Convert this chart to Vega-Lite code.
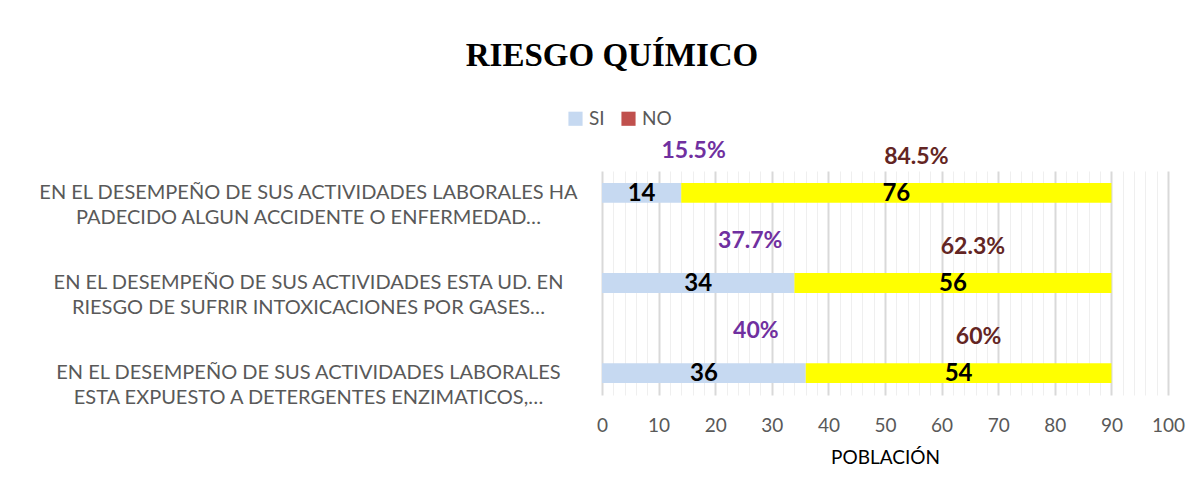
{
  "$schema": "https://vega.github.io/schema/vega-lite/v6.json",
  "width": 566,
  "height": 224,
  "autosize": "none",
  "padding": {"left": 602, "top": 171, "right": 35, "bottom": 107},
  "background": "white",
  "config": {"view": {"stroke": null}},
  "title": {
    "text": "RIESGO QUÍMICO",
    "font": "Liberation Serif",
    "fontSize": 33,
    "fontWeight": "bold",
    "color": "black",
    "anchor": "middle",
    "frame": "group",
    "dx": -273,
    "offset": 36
  },
  "data": {
    "values": [
      {"pregunta": "EN EL DESEMPEÑO DE SUS ACTIVIDADES LABORALES HA|PADECIDO ALGUN ACCIDENTE O ENFERMEDAD…", "serie": "SI", "orden": 1, "valor": 14, "porcentaje": "15.5%"},
      {"pregunta": "EN EL DESEMPEÑO DE SUS ACTIVIDADES LABORALES HA|PADECIDO ALGUN ACCIDENTE O ENFERMEDAD…", "serie": "NO", "orden": 2, "valor": 76, "porcentaje": "84.5%"},
      {"pregunta": "EN EL DESEMPEÑO DE SUS ACTIVIDADES ESTA UD. EN|RIESGO DE SUFRIR INTOXICACIONES POR GASES…", "serie": "SI", "orden": 1, "valor": 34, "porcentaje": "37.7%"},
      {"pregunta": "EN EL DESEMPEÑO DE SUS ACTIVIDADES ESTA UD. EN|RIESGO DE SUFRIR INTOXICACIONES POR GASES…", "serie": "NO", "orden": 2, "valor": 56, "porcentaje": "62.3%"},
      {"pregunta": "EN EL DESEMPEÑO DE SUS ACTIVIDADES LABORALES|ESTA EXPUESTO A DETERGENTES ENZIMATICOS,…", "serie": "SI", "orden": 1, "valor": 36, "porcentaje": "40%"},
      {"pregunta": "EN EL DESEMPEÑO DE SUS ACTIVIDADES LABORALES|ESTA EXPUESTO A DETERGENTES ENZIMATICOS,…", "serie": "NO", "orden": 2, "valor": 54, "porcentaje": "60%"}
    ]
  },
  "transform": [
    {"stack": "valor", "groupby": ["pregunta"], "sort": [{"field": "orden", "order": "ascending"}], "as": ["inicio", "fin"]}
  ],
  "resolve": {"axis": {"x": "independent"}},
  "encoding": {
    "y": {
      "field": "pregunta",
      "type": "nominal",
      "sort": null,
      "scale": {"paddingInner": 0.78, "paddingOuter": 0.134},
      "axis": {
        "title": null,
        "domain": false,
        "ticks": false,
        "labelExpr": "split(datum.label, '|')",
        "labelAlign": "center",
        "labelBaseline": "middle",
        "labelPadding": 294,
        "labelLimit": 0,
        "labelFont": "Lato",
        "labelFontSize": 20,
        "labelLineHeight": 25,
        "labelColor": "#595959"
      }
    }
  },
  "layer": [
    {
      "mark": {"type": "bar"},
      "encoding": {
        "x": {
          "field": "inicio",
          "type": "quantitative",
          "scale": {"domain": [0, 100], "nice": false},
          "axis": {
            "title": "POBLACIÓN",
            "values": [0,2,4,6,8,10,12,14,16,18,20,22,24,26,28,30,32,34,36,38,40,42,44,46,48,50,52,54,56,58,60,62,64,66,68,70,72,74,76,78,80,82,84,86,88,90,92,94,96,98,100],
            "labelExpr": "datum.value % 10 === 0 ? datum.label : ''",
            "labelOverlap": false,
            "labelFlush": false,
            "domain": false,
            "ticks": false,
            "grid": true,
            "gridColor": {"condition": {"test": "datum.value % 10 === 0", "value": "#D9D9D9"}, "value": "#EFEFEF"},
            "gridWidth": {"condition": {"test": "datum.value % 10 === 0", "value": 2}, "value": 1},
            "labelFont": "Lato",
            "labelFontSize": 19,
            "labelColor": "#595959",
            "labelPadding": 21,
            "titleFont": "Lato",
            "titleFontSize": 19,
            "titleFontWeight": "normal",
            "titleColor": "#000000",
            "titlePadding": 13
          }
        },
        "x2": {"field": "fin"},
        "fill": {
          "condition": {"test": "datum.serie === 'NO'", "value": "#FFFF00"},
          "field": "serie",
          "type": "nominal",
          "scale": {"domain": ["SI", "NO"], "range": ["#C6D9F1", "#C0504D"]},
          "legend": {
            "title": null,
            "orient": "none",
            "legendX": -36,
            "legendY": -62,
            "direction": "horizontal",
            "symbolType": "square",
            "symbolSize": 200,
            "symbolStrokeWidth": 0,
            "labelFont": "Lato",
            "labelFontSize": 19,
            "labelColor": "#595959",
            "columnPadding": 14
          }
        }
      }
    },
    {
      "transform": [
        {"fold": ["inicio", "fin"], "as": ["extremo", "pos"]}
      ],
      "mark": {"type": "text", "font": "Lato", "fontWeight": "bold", "fontSize": 24, "color": "black", "baseline": "middle", "dy": 1},
      "encoding": {
        "x": {"aggregate": "mean", "field": "pos", "type": "quantitative", "axis": null},
        "text": {"field": "valor", "type": "quantitative"}
      }
    },
    {
      "transform": [
        {"filter": "datum.serie === 'SI'"},
        {"fold": ["inicio", "fin"], "as": ["extremo", "pos"]}
      ],
      "mark": {"type": "text", "font": "Lato", "fontWeight": "bold", "fontSize": 23, "baseline": "middle", "dx": 52, "dy": -42, "color": "#7030A0"},
      "encoding": {
        "x": {"aggregate": "mean", "field": "pos", "type": "quantitative", "axis": null},
        "text": {"field": "porcentaje", "type": "nominal"}
      }
    },
    {
      "transform": [
        {"filter": "datum.serie === 'NO'"},
        {"fold": ["inicio", "fin"], "as": ["extremo", "pos"]}
      ],
      "mark": {"type": "text", "font": "Lato", "fontWeight": "bold", "fontSize": 23, "baseline": "middle", "dx": 20, "dy": -36, "color": "#632523"},
      "encoding": {
        "x": {"aggregate": "mean", "field": "pos", "type": "quantitative", "axis": null},
        "text": {"field": "porcentaje", "type": "nominal"}
      }
    }
  ]
}
